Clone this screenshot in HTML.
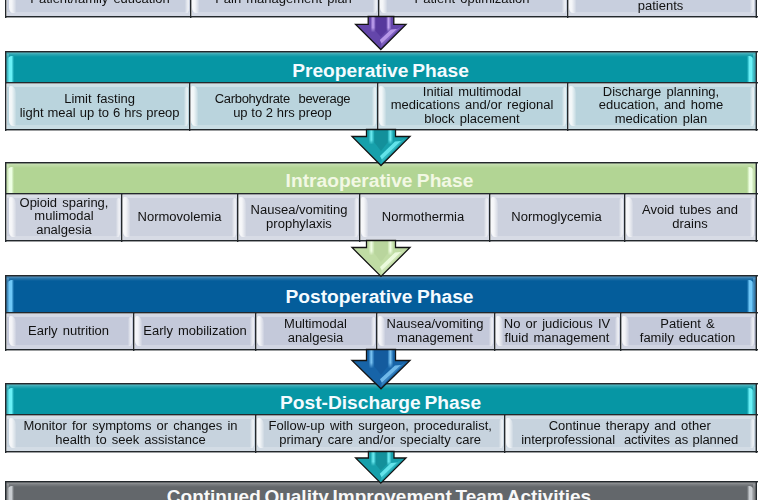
<!DOCTYPE html>
<html><head><meta charset="utf-8"><style>
html,body{margin:0;padding:0;background:#fff;}
body{width:762px;height:500px;overflow:hidden;position:relative;font-family:"Liberation Sans",sans-serif;}
body>div{position:absolute;box-sizing:border-box;}
</style></head><body>
<div style="left:7px;top:-20px;width:183px;height:36px;background:#c8cfde"></div>
<div style="left:7px;top:-20px;width:183px;height:3px;background:rgba(255,255,255,0.28)"></div>
<div style="left:7px;top:12px;width:183px;height:4px;background:rgba(255,255,255,0.22)"></div>
<div style="left:9px;top:-18px;width:7px;height:31px;background:linear-gradient(90deg,rgba(255,255,255,.85),rgba(255,255,255,.8) 40%,rgba(255,255,255,.35) 80%,rgba(255,255,255,.1));border-radius:2px 6px 2px 5px/2px 8px 2px 6px"></div>
<div style="left:185px;top:-17px;width:4px;height:30px;background:linear-gradient(90deg,rgba(255,255,255,.05),rgba(255,255,255,.55) 55%,rgba(255,255,255,.7));border-radius:4px 2px 4px 2px/7px 2px 6px 2px"></div>
<div style="left:-1.5px;top:-19px;width:203.0px;height:36px;display:flex;align-items:center;justify-content:center;text-align:center;font-size:13px;word-spacing:1.5px;line-height:13.2px;color:#111;white-space:pre;transform:scaleY(1.04)"><span>Patient/family education</span></div>
<div style="left:192px;top:-20px;width:186px;height:36px;background:#c8cfde"></div>
<div style="left:192px;top:-20px;width:186px;height:3px;background:rgba(255,255,255,0.28)"></div>
<div style="left:192px;top:12px;width:186px;height:4px;background:rgba(255,255,255,0.22)"></div>
<div style="left:192px;top:-18px;width:7px;height:31px;background:linear-gradient(90deg,rgba(255,255,255,.85),rgba(255,255,255,.8) 40%,rgba(255,255,255,.35) 80%,rgba(255,255,255,.1));border-radius:2px 6px 2px 5px/2px 8px 2px 6px"></div>
<div style="left:373px;top:-17px;width:4px;height:30px;background:linear-gradient(90deg,rgba(255,255,255,.05),rgba(255,255,255,.55) 55%,rgba(255,255,255,.7));border-radius:4px 2px 4px 2px/7px 2px 6px 2px"></div>
<div style="left:180.5px;top:-19px;width:206.0px;height:36px;display:flex;align-items:center;justify-content:center;text-align:center;font-size:13px;word-spacing:1.5px;line-height:13.2px;color:#111;white-space:pre;transform:scaleY(1.04)"><span>Pain management plan</span></div>
<div style="left:380px;top:-20px;width:187px;height:36px;background:#c8cfde"></div>
<div style="left:380px;top:-20px;width:187px;height:3px;background:rgba(255,255,255,0.28)"></div>
<div style="left:380px;top:12px;width:187px;height:4px;background:rgba(255,255,255,0.22)"></div>
<div style="left:380px;top:-18px;width:7px;height:31px;background:linear-gradient(90deg,rgba(255,255,255,.85),rgba(255,255,255,.8) 40%,rgba(255,255,255,.35) 80%,rgba(255,255,255,.1));border-radius:2px 6px 2px 5px/2px 8px 2px 6px"></div>
<div style="left:562px;top:-17px;width:4px;height:30px;background:linear-gradient(90deg,rgba(255,255,255,.05),rgba(255,255,255,.55) 55%,rgba(255,255,255,.7));border-radius:4px 2px 4px 2px/7px 2px 6px 2px"></div>
<div style="left:368.6px;top:-19px;width:207.0px;height:36px;display:flex;align-items:center;justify-content:center;text-align:center;font-size:13px;word-spacing:1.5px;line-height:13.2px;color:#111;white-space:pre;transform:scaleY(1.04)"><span>Patient optimization</span></div>
<div style="left:569px;top:-20px;width:187px;height:36px;background:#c8cfde"></div>
<div style="left:569px;top:-20px;width:187px;height:3px;background:rgba(255,255,255,0.28)"></div>
<div style="left:569px;top:12px;width:187px;height:4px;background:rgba(255,255,255,0.22)"></div>
<div style="left:569px;top:-18px;width:7px;height:31px;background:linear-gradient(90deg,rgba(255,255,255,.85),rgba(255,255,255,.8) 40%,rgba(255,255,255,.35) 80%,rgba(255,255,255,.1));border-radius:2px 6px 2px 5px/2px 8px 2px 6px"></div>
<div style="left:750px;top:-17px;width:4px;height:30px;background:linear-gradient(90deg,rgba(255,255,255,.05),rgba(255,255,255,.55) 55%,rgba(255,255,255,.7));border-radius:4px 2px 4px 2px/7px 2px 6px 2px"></div>
<div style="left:557px;top:-19px;width:207px;height:36px;display:flex;align-items:center;justify-content:center;text-align:center;font-size:13px;word-spacing:1.5px;line-height:13.2px;color:#111;white-space:pre;transform:scaleY(1.04)"><span>Screening high-risk<br>patients</span></div>
<div style="left:5px;top:-22px;width:753px;height:1px;background:#23282c"></div>
<div style="left:5px;top:-21px;width:753px;height:1px;background:#23282c;opacity:.45"></div>
<div style="left:5px;top:16px;width:753px;height:1px;background:#23282c"></div>
<div style="left:5px;top:17px;width:753px;height:1px;background:#23282c;opacity:.45"></div>
<div style="left:5px;top:-22px;width:1px;height:40px;background:#23282c"></div>
<div style="left:6px;top:-22px;width:1px;height:40px;background:#23282c;opacity:.4"></div>
<div style="left:756px;top:-22px;width:1px;height:40px;background:#23282c"></div>
<div style="left:755px;top:-22px;width:1px;height:40px;background:#23282c;opacity:.4"></div>
<div style="left:190px;top:-22px;width:1px;height:40px;background:#23282c"></div>
<div style="left:191px;top:-22px;width:1px;height:40px;background:#23282c;opacity:.4"></div>
<div style="left:378px;top:-22px;width:1px;height:40px;background:#23282c"></div>
<div style="left:379px;top:-22px;width:1px;height:40px;background:#23282c;opacity:.4"></div>
<div style="left:567px;top:-22px;width:1px;height:40px;background:#23282c"></div>
<div style="left:568px;top:-22px;width:1px;height:40px;background:#23282c;opacity:.4"></div>
<div style="left:6px;top:52px;width:750px;height:30px;background:#0696a4"></div>
<div style="left:6px;top:52px;width:750px;height:5px;background:linear-gradient(180deg,rgba(255,255,255,.38),rgba(255,255,255,.15) 50%,rgba(255,255,255,0))"></div>
<div style="left:6px;top:54px;width:3px;height:28px;background:rgba(255,255,255,.2)"></div>
<div style="left:7px;top:56px;width:7px;height:26px;background:linear-gradient(90deg,rgba(255,255,255,0),#6af0f6 35%,#6af0f6 65%,rgba(255,255,255,0));border-radius:5px 1px 0 0/5px 1px 0 0"></div>
<div style="left:747px;top:56px;width:7px;height:26px;background:linear-gradient(90deg,rgba(255,255,255,0),#6af0f6 35%,#6af0f6 70%,rgba(255,255,255,0));border-radius:1px 5px 0 0/1px 5px 0 0"></div>
<div style="left:753px;top:54px;width:3px;height:28px;background:rgba(255,255,255,.2)"></div>
<div style="left:5px;top:60.5px;width:751px;height:19.0px;text-align:center;font-size:19.2px;line-height:19px;font-weight:bold;color:#f4fbff;white-space:pre;word-spacing:-1.5px">Preoperative Phase</div>
<div style="left:7px;top:84px;width:182px;height:45px;background:#bad4dd"></div>
<div style="left:7px;top:84px;width:182px;height:3px;background:rgba(255,255,255,0.28)"></div>
<div style="left:7px;top:125px;width:182px;height:4px;background:rgba(255,255,255,0.22)"></div>
<div style="left:9px;top:86px;width:7px;height:40px;background:linear-gradient(90deg,rgba(255,255,255,.85),rgba(255,255,255,.8) 40%,rgba(255,255,255,.35) 80%,rgba(255,255,255,.1));border-radius:2px 6px 2px 5px/2px 8px 2px 6px"></div>
<div style="left:184px;top:87px;width:4px;height:39px;background:linear-gradient(90deg,rgba(255,255,255,.05),rgba(255,255,255,.55) 55%,rgba(255,255,255,.7));border-radius:4px 2px 4px 2px/7px 2px 6px 2px"></div>
<div style="left:-1.4px;top:83px;width:202.0px;height:45px;display:flex;align-items:center;justify-content:center;text-align:center;font-size:13px;word-spacing:1.5px;line-height:13.2px;color:#111;white-space:pre;transform:scaleY(1.04)"><span>Limit fasting<br><span style="word-spacing:0.4px">light meal up to 6 hrs preop</span></span></div>
<div style="left:191px;top:84px;width:186px;height:45px;background:#bad4dd"></div>
<div style="left:191px;top:84px;width:186px;height:3px;background:rgba(255,255,255,0.28)"></div>
<div style="left:191px;top:125px;width:186px;height:4px;background:rgba(255,255,255,0.22)"></div>
<div style="left:191px;top:86px;width:7px;height:40px;background:linear-gradient(90deg,rgba(255,255,255,.85),rgba(255,255,255,.8) 40%,rgba(255,255,255,.35) 80%,rgba(255,255,255,.1));border-radius:2px 6px 2px 5px/2px 8px 2px 6px"></div>
<div style="left:372px;top:87px;width:4px;height:39px;background:linear-gradient(90deg,rgba(255,255,255,.05),rgba(255,255,255,.55) 55%,rgba(255,255,255,.7));border-radius:4px 2px 4px 2px/7px 2px 6px 2px"></div>
<div style="left:179.5px;top:83px;width:206.0px;height:45px;display:flex;align-items:center;justify-content:center;text-align:center;font-size:13px;word-spacing:1.5px;line-height:13.2px;color:#111;white-space:pre;transform:scaleY(1.04)"><span><span style="letter-spacing:-0.3px;word-spacing:1px">Carbohydrate  beverage</span><br><span style="word-spacing:0.1px">up to 2 hrs preop</span></span></div>
<div style="left:379px;top:84px;width:188px;height:45px;background:#bad4dd"></div>
<div style="left:379px;top:84px;width:188px;height:3px;background:rgba(255,255,255,0.28)"></div>
<div style="left:379px;top:125px;width:188px;height:4px;background:rgba(255,255,255,0.22)"></div>
<div style="left:379px;top:86px;width:7px;height:40px;background:linear-gradient(90deg,rgba(255,255,255,.85),rgba(255,255,255,.8) 40%,rgba(255,255,255,.35) 80%,rgba(255,255,255,.1));border-radius:2px 6px 2px 5px/2px 8px 2px 6px"></div>
<div style="left:562px;top:87px;width:4px;height:39px;background:linear-gradient(90deg,rgba(255,255,255,.05),rgba(255,255,255,.55) 55%,rgba(255,255,255,.7));border-radius:4px 2px 4px 2px/7px 2px 6px 2px"></div>
<div style="left:368px;top:82px;width:208px;height:45px;display:flex;align-items:center;justify-content:center;text-align:center;font-size:13px;word-spacing:1.5px;line-height:13.2px;color:#111;white-space:pre;transform:scaleY(1.04)"><span>Initial multimodal<br>medications and/or regional<br>block placement</span></div>
<div style="left:569px;top:84px;width:187px;height:45px;background:#bad4dd"></div>
<div style="left:569px;top:84px;width:187px;height:3px;background:rgba(255,255,255,0.28)"></div>
<div style="left:569px;top:125px;width:187px;height:4px;background:rgba(255,255,255,0.22)"></div>
<div style="left:569px;top:86px;width:7px;height:40px;background:linear-gradient(90deg,rgba(255,255,255,.85),rgba(255,255,255,.8) 40%,rgba(255,255,255,.35) 80%,rgba(255,255,255,.1));border-radius:2px 6px 2px 5px/2px 8px 2px 6px"></div>
<div style="left:750px;top:87px;width:4px;height:39px;background:linear-gradient(90deg,rgba(255,255,255,.05),rgba(255,255,255,.55) 55%,rgba(255,255,255,.7));border-radius:4px 2px 4px 2px/7px 2px 6px 2px"></div>
<div style="left:557.5px;top:82px;width:207.0px;height:45px;display:flex;align-items:center;justify-content:center;text-align:center;font-size:13px;word-spacing:1.5px;line-height:13.2px;color:#111;white-space:pre;transform:scaleY(1.04)"><span>Discharge planning,<br>education, and home<br>medication plan</span></div>
<div style="left:5px;top:51px;width:753px;height:1px;background:#23282c"></div>
<div style="left:5px;top:52px;width:753px;height:1px;background:#23282c;opacity:.45"></div>
<div style="left:5px;top:82px;width:753px;height:1px;background:#23282c"></div>
<div style="left:5px;top:83px;width:753px;height:1px;background:#23282c;opacity:.45"></div>
<div style="left:5px;top:129px;width:753px;height:1px;background:#23282c"></div>
<div style="left:5px;top:130px;width:753px;height:1px;background:#23282c;opacity:.45"></div>
<div style="left:5px;top:51px;width:1px;height:80px;background:#23282c"></div>
<div style="left:6px;top:51px;width:1px;height:80px;background:#23282c;opacity:.4"></div>
<div style="left:756px;top:51px;width:1px;height:80px;background:#23282c"></div>
<div style="left:755px;top:51px;width:1px;height:80px;background:#23282c;opacity:.4"></div>
<div style="left:189px;top:82px;width:1px;height:49px;background:#23282c"></div>
<div style="left:190px;top:82px;width:1px;height:49px;background:#23282c;opacity:.4"></div>
<div style="left:377px;top:82px;width:1px;height:49px;background:#23282c"></div>
<div style="left:378px;top:82px;width:1px;height:49px;background:#23282c;opacity:.4"></div>
<div style="left:567px;top:82px;width:1px;height:49px;background:#23282c"></div>
<div style="left:568px;top:82px;width:1px;height:49px;background:#23282c;opacity:.4"></div>
<div style="left:6px;top:163px;width:750px;height:30px;background:#b2d594"></div>
<div style="left:6px;top:163px;width:750px;height:5px;background:linear-gradient(180deg,rgba(255,255,255,.38),rgba(255,255,255,.15) 50%,rgba(255,255,255,0))"></div>
<div style="left:6px;top:165px;width:3px;height:28px;background:rgba(255,255,255,.2)"></div>
<div style="left:7px;top:167px;width:7px;height:26px;background:linear-gradient(90deg,rgba(255,255,255,0),#eeffe4 35%,#eeffe4 65%,rgba(255,255,255,0));border-radius:5px 1px 0 0/5px 1px 0 0"></div>
<div style="left:747px;top:167px;width:7px;height:26px;background:linear-gradient(90deg,rgba(255,255,255,0),#eeffe4 35%,#eeffe4 70%,rgba(255,255,255,0));border-radius:1px 5px 0 0/1px 5px 0 0"></div>
<div style="left:753px;top:165px;width:3px;height:28px;background:rgba(255,255,255,.2)"></div>
<div style="left:4px;top:171.1px;width:751px;height:19.0px;text-align:center;font-size:19.2px;line-height:19px;font-weight:bold;color:#f2f8e4;white-space:pre;word-spacing:-1px">Intraoperative Phase</div>
<div style="left:7px;top:195px;width:114px;height:45px;background:#ccd1de"></div>
<div style="left:7px;top:195px;width:114px;height:3px;background:rgba(255,255,255,0.28)"></div>
<div style="left:7px;top:236px;width:114px;height:4px;background:rgba(255,255,255,0.22)"></div>
<div style="left:9px;top:197px;width:7px;height:40px;background:linear-gradient(90deg,rgba(255,255,255,.85),rgba(255,255,255,.8) 40%,rgba(255,255,255,.35) 80%,rgba(255,255,255,.1));border-radius:2px 6px 2px 5px/2px 8px 2px 6px"></div>
<div style="left:116px;top:198px;width:4px;height:39px;background:linear-gradient(90deg,rgba(255,255,255,.05),rgba(255,255,255,.55) 55%,rgba(255,255,255,.7));border-radius:4px 2px 4px 2px/7px 2px 6px 2px"></div>
<div style="left:-3px;top:193px;width:134px;height:45px;display:flex;align-items:center;justify-content:center;text-align:center;font-size:13px;word-spacing:1.5px;line-height:13.2px;color:#111;white-space:pre;transform:scaleY(1.04)"><span>Opioid sparing,<br>mulimodal<br>analgesia</span></div>
<div style="left:123px;top:195px;width:114px;height:45px;background:#ccd1de"></div>
<div style="left:123px;top:195px;width:114px;height:3px;background:rgba(255,255,255,0.28)"></div>
<div style="left:123px;top:236px;width:114px;height:4px;background:rgba(255,255,255,0.22)"></div>
<div style="left:123px;top:197px;width:7px;height:40px;background:linear-gradient(90deg,rgba(255,255,255,.85),rgba(255,255,255,.8) 40%,rgba(255,255,255,.35) 80%,rgba(255,255,255,.1));border-radius:2px 6px 2px 5px/2px 8px 2px 6px"></div>
<div style="left:232px;top:198px;width:4px;height:39px;background:linear-gradient(90deg,rgba(255,255,255,.05),rgba(255,255,255,.55) 55%,rgba(255,255,255,.7));border-radius:4px 2px 4px 2px/7px 2px 6px 2px"></div>
<div style="left:112.5px;top:194px;width:134.0px;height:45px;display:flex;align-items:center;justify-content:center;text-align:center;font-size:13px;word-spacing:1.5px;line-height:13.2px;color:#111;white-space:pre;transform:scaleY(1.04)"><span>Normovolemia</span></div>
<div style="left:239px;top:195px;width:120px;height:45px;background:#ccd1de"></div>
<div style="left:239px;top:195px;width:120px;height:3px;background:rgba(255,255,255,0.28)"></div>
<div style="left:239px;top:236px;width:120px;height:4px;background:rgba(255,255,255,0.22)"></div>
<div style="left:239px;top:197px;width:7px;height:40px;background:linear-gradient(90deg,rgba(255,255,255,.85),rgba(255,255,255,.8) 40%,rgba(255,255,255,.35) 80%,rgba(255,255,255,.1));border-radius:2px 6px 2px 5px/2px 8px 2px 6px"></div>
<div style="left:354px;top:198px;width:4px;height:39px;background:linear-gradient(90deg,rgba(255,255,255,.05),rgba(255,255,255,.55) 55%,rgba(255,255,255,.7));border-radius:4px 2px 4px 2px/7px 2px 6px 2px"></div>
<div style="left:229px;top:194px;width:140px;height:45px;display:flex;align-items:center;justify-content:center;text-align:center;font-size:13px;word-spacing:1.5px;line-height:13.2px;color:#111;white-space:pre;transform:scaleY(1.04)"><span>Nausea/vomiting<br>prophylaxis</span></div>
<div style="left:361px;top:195px;width:128px;height:45px;background:#ccd1de"></div>
<div style="left:361px;top:195px;width:128px;height:3px;background:rgba(255,255,255,0.28)"></div>
<div style="left:361px;top:236px;width:128px;height:4px;background:rgba(255,255,255,0.22)"></div>
<div style="left:361px;top:197px;width:7px;height:40px;background:linear-gradient(90deg,rgba(255,255,255,.85),rgba(255,255,255,.8) 40%,rgba(255,255,255,.35) 80%,rgba(255,255,255,.1));border-radius:2px 6px 2px 5px/2px 8px 2px 6px"></div>
<div style="left:484px;top:198px;width:4px;height:39px;background:linear-gradient(90deg,rgba(255,255,255,.05),rgba(255,255,255,.55) 55%,rgba(255,255,255,.7));border-radius:4px 2px 4px 2px/7px 2px 6px 2px"></div>
<div style="left:349px;top:194px;width:148px;height:45px;display:flex;align-items:center;justify-content:center;text-align:center;font-size:13px;word-spacing:1.5px;line-height:13.2px;color:#111;white-space:pre;transform:scaleY(1.04)"><span>Normothermia</span></div>
<div style="left:491px;top:195px;width:133px;height:45px;background:#ccd1de"></div>
<div style="left:491px;top:195px;width:133px;height:3px;background:rgba(255,255,255,0.28)"></div>
<div style="left:491px;top:236px;width:133px;height:4px;background:rgba(255,255,255,0.22)"></div>
<div style="left:491px;top:197px;width:7px;height:40px;background:linear-gradient(90deg,rgba(255,255,255,.85),rgba(255,255,255,.8) 40%,rgba(255,255,255,.35) 80%,rgba(255,255,255,.1));border-radius:2px 6px 2px 5px/2px 8px 2px 6px"></div>
<div style="left:619px;top:198px;width:4px;height:39px;background:linear-gradient(90deg,rgba(255,255,255,.05),rgba(255,255,255,.55) 55%,rgba(255,255,255,.7));border-radius:4px 2px 4px 2px/7px 2px 6px 2px"></div>
<div style="left:480px;top:194px;width:153px;height:45px;display:flex;align-items:center;justify-content:center;text-align:center;font-size:13px;word-spacing:1.5px;line-height:13.2px;color:#111;white-space:pre;transform:scaleY(1.04)"><span>Normoglycemia</span></div>
<div style="left:626px;top:195px;width:130px;height:45px;background:#ccd1de"></div>
<div style="left:626px;top:195px;width:130px;height:3px;background:rgba(255,255,255,0.28)"></div>
<div style="left:626px;top:236px;width:130px;height:4px;background:rgba(255,255,255,0.22)"></div>
<div style="left:626px;top:197px;width:7px;height:40px;background:linear-gradient(90deg,rgba(255,255,255,.85),rgba(255,255,255,.8) 40%,rgba(255,255,255,.35) 80%,rgba(255,255,255,.1));border-radius:2px 6px 2px 5px/2px 8px 2px 6px"></div>
<div style="left:750px;top:198px;width:4px;height:39px;background:linear-gradient(90deg,rgba(255,255,255,.05),rgba(255,255,255,.55) 55%,rgba(255,255,255,.7));border-radius:4px 2px 4px 2px/7px 2px 6px 2px"></div>
<div style="left:615px;top:194px;width:150px;height:45px;display:flex;align-items:center;justify-content:center;text-align:center;font-size:13px;word-spacing:1.5px;line-height:13.2px;color:#111;white-space:pre;transform:scaleY(1.04)"><span>Avoid tubes and<br>drains</span></div>
<div style="left:5px;top:162px;width:753px;height:1px;background:#23282c"></div>
<div style="left:5px;top:163px;width:753px;height:1px;background:#23282c;opacity:.45"></div>
<div style="left:5px;top:193px;width:753px;height:1px;background:#23282c"></div>
<div style="left:5px;top:194px;width:753px;height:1px;background:#23282c;opacity:.45"></div>
<div style="left:5px;top:240px;width:753px;height:1px;background:#23282c"></div>
<div style="left:5px;top:241px;width:753px;height:1px;background:#23282c;opacity:.45"></div>
<div style="left:5px;top:162px;width:1px;height:80px;background:#23282c"></div>
<div style="left:6px;top:162px;width:1px;height:80px;background:#23282c;opacity:.4"></div>
<div style="left:756px;top:162px;width:1px;height:80px;background:#23282c"></div>
<div style="left:755px;top:162px;width:1px;height:80px;background:#23282c;opacity:.4"></div>
<div style="left:121px;top:193px;width:1px;height:49px;background:#23282c"></div>
<div style="left:122px;top:193px;width:1px;height:49px;background:#23282c;opacity:.4"></div>
<div style="left:237px;top:193px;width:1px;height:49px;background:#23282c"></div>
<div style="left:238px;top:193px;width:1px;height:49px;background:#23282c;opacity:.4"></div>
<div style="left:359px;top:193px;width:1px;height:49px;background:#23282c"></div>
<div style="left:360px;top:193px;width:1px;height:49px;background:#23282c;opacity:.4"></div>
<div style="left:489px;top:193px;width:1px;height:49px;background:#23282c"></div>
<div style="left:490px;top:193px;width:1px;height:49px;background:#23282c;opacity:.4"></div>
<div style="left:624px;top:193px;width:1px;height:49px;background:#23282c"></div>
<div style="left:625px;top:193px;width:1px;height:49px;background:#23282c;opacity:.4"></div>
<div style="left:6px;top:276px;width:750px;height:36px;background:#045d9b"></div>
<div style="left:6px;top:276px;width:750px;height:5px;background:linear-gradient(180deg,rgba(255,255,255,.38),rgba(255,255,255,.15) 50%,rgba(255,255,255,0))"></div>
<div style="left:6px;top:278px;width:3px;height:34px;background:rgba(255,255,255,.2)"></div>
<div style="left:7px;top:280px;width:7px;height:32px;background:linear-gradient(90deg,rgba(255,255,255,0),#70c8f8 35%,#70c8f8 65%,rgba(255,255,255,0));border-radius:5px 1px 0 0/5px 1px 0 0"></div>
<div style="left:747px;top:280px;width:7px;height:32px;background:linear-gradient(90deg,rgba(255,255,255,0),#70c8f8 35%,#70c8f8 70%,rgba(255,255,255,0));border-radius:1px 5px 0 0/1px 5px 0 0"></div>
<div style="left:753px;top:278px;width:3px;height:34px;background:rgba(255,255,255,.2)"></div>
<div style="left:4px;top:287px;width:751px;height:19px;text-align:center;font-size:19.2px;line-height:19px;font-weight:bold;color:#f4fbff;white-space:pre;word-spacing:-0.8px">Postoperative Phase</div>
<div style="left:7px;top:314px;width:126px;height:35px;background:#c4c9da"></div>
<div style="left:7px;top:314px;width:126px;height:3px;background:rgba(255,255,255,0.28)"></div>
<div style="left:7px;top:345px;width:126px;height:4px;background:rgba(255,255,255,0.22)"></div>
<div style="left:9px;top:316px;width:7px;height:30px;background:linear-gradient(90deg,rgba(255,255,255,.85),rgba(255,255,255,.8) 40%,rgba(255,255,255,.35) 80%,rgba(255,255,255,.1));border-radius:2px 6px 2px 5px/2px 8px 2px 6px"></div>
<div style="left:128px;top:317px;width:4px;height:29px;background:linear-gradient(90deg,rgba(255,255,255,.05),rgba(255,255,255,.55) 55%,rgba(255,255,255,.7));border-radius:4px 2px 4px 2px/7px 2px 6px 2px"></div>
<div style="left:-4.5px;top:313px;width:146.0px;height:35px;display:flex;align-items:center;justify-content:center;text-align:center;font-size:13px;word-spacing:1.5px;line-height:13.2px;color:#111;white-space:pre;transform:scaleY(1.04)"><span>Early nutrition</span></div>
<div style="left:135px;top:314px;width:120px;height:35px;background:#c4c9da"></div>
<div style="left:135px;top:314px;width:120px;height:3px;background:rgba(255,255,255,0.28)"></div>
<div style="left:135px;top:345px;width:120px;height:4px;background:rgba(255,255,255,0.22)"></div>
<div style="left:135px;top:316px;width:7px;height:30px;background:linear-gradient(90deg,rgba(255,255,255,.85),rgba(255,255,255,.8) 40%,rgba(255,255,255,.35) 80%,rgba(255,255,255,.1));border-radius:2px 6px 2px 5px/2px 8px 2px 6px"></div>
<div style="left:250px;top:317px;width:4px;height:29px;background:linear-gradient(90deg,rgba(255,255,255,.05),rgba(255,255,255,.55) 55%,rgba(255,255,255,.7));border-radius:4px 2px 4px 2px/7px 2px 6px 2px"></div>
<div style="left:125px;top:313px;width:140px;height:35px;display:flex;align-items:center;justify-content:center;text-align:center;font-size:13px;word-spacing:1.5px;line-height:13.2px;color:#111;white-space:pre;transform:scaleY(1.04)"><span>Early mobilization</span></div>
<div style="left:257px;top:314px;width:119px;height:35px;background:#c4c9da"></div>
<div style="left:257px;top:314px;width:119px;height:3px;background:rgba(255,255,255,0.28)"></div>
<div style="left:257px;top:345px;width:119px;height:4px;background:rgba(255,255,255,0.22)"></div>
<div style="left:257px;top:316px;width:7px;height:30px;background:linear-gradient(90deg,rgba(255,255,255,.85),rgba(255,255,255,.8) 40%,rgba(255,255,255,.35) 80%,rgba(255,255,255,.1));border-radius:2px 6px 2px 5px/2px 8px 2px 6px"></div>
<div style="left:371px;top:317px;width:4px;height:29px;background:linear-gradient(90deg,rgba(255,255,255,.05),rgba(255,255,255,.55) 55%,rgba(255,255,255,.7));border-radius:4px 2px 4px 2px/7px 2px 6px 2px"></div>
<div style="left:246px;top:313px;width:139px;height:35px;display:flex;align-items:center;justify-content:center;text-align:center;font-size:13px;word-spacing:1.5px;line-height:13.2px;color:#111;white-space:pre;transform:scaleY(1.04)"><span>Multimodal<br>analgesia</span></div>
<div style="left:378px;top:314px;width:116px;height:35px;background:#c4c9da"></div>
<div style="left:378px;top:314px;width:116px;height:3px;background:rgba(255,255,255,0.28)"></div>
<div style="left:378px;top:345px;width:116px;height:4px;background:rgba(255,255,255,0.22)"></div>
<div style="left:378px;top:316px;width:7px;height:30px;background:linear-gradient(90deg,rgba(255,255,255,.85),rgba(255,255,255,.8) 40%,rgba(255,255,255,.35) 80%,rgba(255,255,255,.1));border-radius:2px 6px 2px 5px/2px 8px 2px 6px"></div>
<div style="left:489px;top:317px;width:4px;height:29px;background:linear-gradient(90deg,rgba(255,255,255,.05),rgba(255,255,255,.55) 55%,rgba(255,255,255,.7));border-radius:4px 2px 4px 2px/7px 2px 6px 2px"></div>
<div style="left:367px;top:313px;width:136px;height:35px;display:flex;align-items:center;justify-content:center;text-align:center;font-size:13px;word-spacing:1.5px;line-height:13.2px;color:#111;white-space:pre;transform:scaleY(1.04)"><span>Nausea/vomiting<br>management</span></div>
<div style="left:496px;top:314px;width:124px;height:35px;background:#c4c9da"></div>
<div style="left:496px;top:314px;width:124px;height:3px;background:rgba(255,255,255,0.28)"></div>
<div style="left:496px;top:345px;width:124px;height:4px;background:rgba(255,255,255,0.22)"></div>
<div style="left:496px;top:316px;width:7px;height:30px;background:linear-gradient(90deg,rgba(255,255,255,.85),rgba(255,255,255,.8) 40%,rgba(255,255,255,.35) 80%,rgba(255,255,255,.1));border-radius:2px 6px 2px 5px/2px 8px 2px 6px"></div>
<div style="left:615px;top:317px;width:4px;height:29px;background:linear-gradient(90deg,rgba(255,255,255,.05),rgba(255,255,255,.55) 55%,rgba(255,255,255,.7));border-radius:4px 2px 4px 2px/7px 2px 6px 2px"></div>
<div style="left:485px;top:313px;width:144px;height:35px;display:flex;align-items:center;justify-content:center;text-align:center;font-size:13px;word-spacing:1.5px;line-height:13.2px;color:#111;white-space:pre;transform:scaleY(1.04)"><span>No or judicious IV<br>fluid management</span></div>
<div style="left:622px;top:314px;width:134px;height:35px;background:#c4c9da"></div>
<div style="left:622px;top:314px;width:134px;height:3px;background:rgba(255,255,255,0.28)"></div>
<div style="left:622px;top:345px;width:134px;height:4px;background:rgba(255,255,255,0.22)"></div>
<div style="left:622px;top:316px;width:7px;height:30px;background:linear-gradient(90deg,rgba(255,255,255,.85),rgba(255,255,255,.8) 40%,rgba(255,255,255,.35) 80%,rgba(255,255,255,.1));border-radius:2px 6px 2px 5px/2px 8px 2px 6px"></div>
<div style="left:750px;top:317px;width:4px;height:29px;background:linear-gradient(90deg,rgba(255,255,255,.05),rgba(255,255,255,.55) 55%,rgba(255,255,255,.7));border-radius:4px 2px 4px 2px/7px 2px 6px 2px"></div>
<div style="left:610.5px;top:313px;width:154.0px;height:35px;display:flex;align-items:center;justify-content:center;text-align:center;font-size:13px;word-spacing:1.5px;line-height:13.2px;color:#111;white-space:pre;transform:scaleY(1.04)"><span>Patient &<br>family education</span></div>
<div style="left:5px;top:275px;width:753px;height:1px;background:#23282c"></div>
<div style="left:5px;top:276px;width:753px;height:1px;background:#23282c;opacity:.45"></div>
<div style="left:5px;top:312px;width:753px;height:1px;background:#23282c"></div>
<div style="left:5px;top:313px;width:753px;height:1px;background:#23282c;opacity:.45"></div>
<div style="left:5px;top:349px;width:753px;height:1px;background:#23282c"></div>
<div style="left:5px;top:350px;width:753px;height:1px;background:#23282c;opacity:.45"></div>
<div style="left:5px;top:275px;width:1px;height:76px;background:#23282c"></div>
<div style="left:6px;top:275px;width:1px;height:76px;background:#23282c;opacity:.4"></div>
<div style="left:756px;top:275px;width:1px;height:76px;background:#23282c"></div>
<div style="left:755px;top:275px;width:1px;height:76px;background:#23282c;opacity:.4"></div>
<div style="left:133px;top:312px;width:1px;height:39px;background:#23282c"></div>
<div style="left:134px;top:312px;width:1px;height:39px;background:#23282c;opacity:.4"></div>
<div style="left:255px;top:312px;width:1px;height:39px;background:#23282c"></div>
<div style="left:256px;top:312px;width:1px;height:39px;background:#23282c;opacity:.4"></div>
<div style="left:376px;top:312px;width:1px;height:39px;background:#23282c"></div>
<div style="left:377px;top:312px;width:1px;height:39px;background:#23282c;opacity:.4"></div>
<div style="left:494px;top:312px;width:1px;height:39px;background:#23282c"></div>
<div style="left:495px;top:312px;width:1px;height:39px;background:#23282c;opacity:.4"></div>
<div style="left:620px;top:312px;width:1px;height:39px;background:#23282c"></div>
<div style="left:621px;top:312px;width:1px;height:39px;background:#23282c;opacity:.4"></div>
<div style="left:6px;top:384px;width:750px;height:30px;background:#0696a4"></div>
<div style="left:6px;top:384px;width:750px;height:5px;background:linear-gradient(180deg,rgba(255,255,255,.38),rgba(255,255,255,.15) 50%,rgba(255,255,255,0))"></div>
<div style="left:6px;top:386px;width:3px;height:28px;background:rgba(255,255,255,.2)"></div>
<div style="left:7px;top:388px;width:7px;height:26px;background:linear-gradient(90deg,rgba(255,255,255,0),#6af0f6 35%,#6af0f6 65%,rgba(255,255,255,0));border-radius:5px 1px 0 0/5px 1px 0 0"></div>
<div style="left:747px;top:388px;width:7px;height:26px;background:linear-gradient(90deg,rgba(255,255,255,0),#6af0f6 35%,#6af0f6 70%,rgba(255,255,255,0));border-radius:1px 5px 0 0/1px 5px 0 0"></div>
<div style="left:753px;top:386px;width:3px;height:28px;background:rgba(255,255,255,.2)"></div>
<div style="left:5px;top:392.6px;width:751px;height:19.0px;text-align:center;font-size:19.2px;line-height:19px;font-weight:bold;color:#f4fbff;white-space:pre;word-spacing:-1.5px">Post-Discharge Phase</div>
<div style="left:7px;top:416px;width:248px;height:35px;background:#c7d3de"></div>
<div style="left:7px;top:416px;width:248px;height:3px;background:rgba(255,255,255,0.28)"></div>
<div style="left:7px;top:447px;width:248px;height:4px;background:rgba(255,255,255,0.22)"></div>
<div style="left:9px;top:418px;width:7px;height:30px;background:linear-gradient(90deg,rgba(255,255,255,.85),rgba(255,255,255,.8) 40%,rgba(255,255,255,.35) 80%,rgba(255,255,255,.1));border-radius:2px 6px 2px 5px/2px 8px 2px 6px"></div>
<div style="left:250px;top:419px;width:4px;height:29px;background:linear-gradient(90deg,rgba(255,255,255,.05),rgba(255,255,255,.55) 55%,rgba(255,255,255,.7));border-radius:4px 2px 4px 2px/7px 2px 6px 2px"></div>
<div style="left:-3.5px;top:415px;width:268.0px;height:35px;display:flex;align-items:center;justify-content:center;text-align:center;font-size:13px;word-spacing:1.5px;line-height:13.2px;color:#111;white-space:pre;transform:scaleY(1.04)"><span>Monitor for symptoms or changes in<br>health to seek assistance</span></div>
<div style="left:257px;top:416px;width:247px;height:35px;background:#c7d3de"></div>
<div style="left:257px;top:416px;width:247px;height:3px;background:rgba(255,255,255,0.28)"></div>
<div style="left:257px;top:447px;width:247px;height:4px;background:rgba(255,255,255,0.22)"></div>
<div style="left:257px;top:418px;width:7px;height:30px;background:linear-gradient(90deg,rgba(255,255,255,.85),rgba(255,255,255,.8) 40%,rgba(255,255,255,.35) 80%,rgba(255,255,255,.1));border-radius:2px 6px 2px 5px/2px 8px 2px 6px"></div>
<div style="left:499px;top:419px;width:4px;height:29px;background:linear-gradient(90deg,rgba(255,255,255,.05),rgba(255,255,255,.55) 55%,rgba(255,255,255,.7));border-radius:4px 2px 4px 2px/7px 2px 6px 2px"></div>
<div style="left:246.7px;top:415px;width:267.00000000000006px;height:35px;display:flex;align-items:center;justify-content:center;text-align:center;font-size:13px;word-spacing:1.5px;line-height:13.2px;color:#111;white-space:pre;transform:scaleY(1.04)"><span>Follow-up with surgeon, proceduralist,<br>primary care and/or specialty care</span></div>
<div style="left:506px;top:416px;width:250px;height:35px;background:#c7d3de"></div>
<div style="left:506px;top:416px;width:250px;height:3px;background:rgba(255,255,255,0.28)"></div>
<div style="left:506px;top:447px;width:250px;height:4px;background:rgba(255,255,255,0.22)"></div>
<div style="left:506px;top:418px;width:7px;height:30px;background:linear-gradient(90deg,rgba(255,255,255,.85),rgba(255,255,255,.8) 40%,rgba(255,255,255,.35) 80%,rgba(255,255,255,.1));border-radius:2px 6px 2px 5px/2px 8px 2px 6px"></div>
<div style="left:750px;top:419px;width:4px;height:29px;background:linear-gradient(90deg,rgba(255,255,255,.05),rgba(255,255,255,.55) 55%,rgba(255,255,255,.7));border-radius:4px 2px 4px 2px/7px 2px 6px 2px"></div>
<div style="left:494.7px;top:415px;width:270.00000000000006px;height:35px;display:flex;align-items:center;justify-content:center;text-align:center;font-size:13px;word-spacing:1.5px;line-height:13.2px;color:#111;white-space:pre;transform:scaleY(1.04)"><span>Continue therapy and other<br><span style="letter-spacing:-0.1px;word-spacing:1px">interprofessional  activites as planned</span></span></div>
<div style="left:5px;top:383px;width:753px;height:1px;background:#23282c"></div>
<div style="left:5px;top:384px;width:753px;height:1px;background:#23282c;opacity:.45"></div>
<div style="left:5px;top:414px;width:753px;height:1px;background:#23282c"></div>
<div style="left:5px;top:415px;width:753px;height:1px;background:#23282c;opacity:.45"></div>
<div style="left:5px;top:451px;width:753px;height:1px;background:#23282c"></div>
<div style="left:5px;top:452px;width:753px;height:1px;background:#23282c;opacity:.45"></div>
<div style="left:5px;top:383px;width:1px;height:70px;background:#23282c"></div>
<div style="left:6px;top:383px;width:1px;height:70px;background:#23282c;opacity:.4"></div>
<div style="left:756px;top:383px;width:1px;height:70px;background:#23282c"></div>
<div style="left:755px;top:383px;width:1px;height:70px;background:#23282c;opacity:.4"></div>
<div style="left:255px;top:414px;width:1px;height:39px;background:#23282c"></div>
<div style="left:256px;top:414px;width:1px;height:39px;background:#23282c;opacity:.4"></div>
<div style="left:504px;top:414px;width:1px;height:39px;background:#23282c"></div>
<div style="left:505px;top:414px;width:1px;height:39px;background:#23282c;opacity:.4"></div>
<div style="left:6px;top:482px;width:750px;height:48px;background:#63676b"></div>
<div style="left:6px;top:482px;width:750px;height:5px;background:linear-gradient(180deg,rgba(255,255,255,.38),rgba(255,255,255,.15) 50%,rgba(255,255,255,0))"></div>
<div style="left:6px;top:484px;width:3px;height:46px;background:rgba(255,255,255,.2)"></div>
<div style="left:7px;top:486px;width:7px;height:44px;background:linear-gradient(90deg,rgba(255,255,255,0),#c8ccd0 35%,#c8ccd0 65%,rgba(255,255,255,0));border-radius:5px 1px 0 0/5px 1px 0 0"></div>
<div style="left:747px;top:486px;width:7px;height:44px;background:linear-gradient(90deg,rgba(255,255,255,0),#c8ccd0 35%,#c8ccd0 70%,rgba(255,255,255,0));border-radius:1px 5px 0 0/1px 5px 0 0"></div>
<div style="left:753px;top:484px;width:3px;height:46px;background:rgba(255,255,255,.2)"></div>
<div style="left:3.5px;top:486.7px;width:751.0px;height:19.0px;text-align:center;font-size:19px;line-height:19px;font-weight:bold;color:#f8f8f8;white-space:pre;word-spacing:-1.6px">Continued Quality Improvement Team Activities</div>
<div style="left:5px;top:481px;width:753px;height:1px;background:#23282c"></div>
<div style="left:5px;top:482px;width:753px;height:1px;background:#23282c;opacity:.45"></div>
<div style="left:5px;top:481px;width:1px;height:19px;background:#23282c"></div>
<div style="left:6px;top:481px;width:1px;height:19px;background:#23282c;opacity:.4"></div>
<div style="left:756px;top:481px;width:1px;height:19px;background:#23282c"></div>
<div style="left:755px;top:481px;width:1px;height:19px;background:#23282c;opacity:.4"></div>
<svg width="762" height="500" style="position:absolute;left:0;top:0"><defs><linearGradient id="a16s" x1="0" x2="1" y1="0" y2="0"><stop offset="0" stop-color="#c4a6f2" stop-opacity="0.15"/><stop offset="0.45" stop-color="#c4a6f2" stop-opacity="1"/><stop offset="1" stop-color="#c4a6f2" stop-opacity="0.1"/></linearGradient><linearGradient id="a16v" x1="0" x2="0" y1="0" y2="1"><stop offset="0" stop-color="#fff" stop-opacity="1"/><stop offset="0.7" stop-color="#fff" stop-opacity="1"/><stop offset="1" stop-color="#fff" stop-opacity="0"/></linearGradient><mask id="a16m"><rect x="0" y="16.5" width="762" height="15.899999999999999" fill="url(#a16v)"/></mask></defs><polygon points="368.2,16.5 393.8,16.5 393.8,24.4 406,24.4 380.8,49.5 355.6,24.4 368.2,24.4" fill="#6446aa"/><polygon points="375.112,16.5 386.888,16.5 386.888,30.4 380.8,36.95 375.112,30.4" fill="#3a1a80" opacity=".3"/><g mask="url(#a16m)"><rect x="370.7" y="17.0" width="5" height="15.899999999999999" fill="url(#a16s)"/><rect x="386.3" y="17.0" width="5" height="15.899999999999999" fill="url(#a16s)"/></g><polygon points="397,28.9 391,29.4 379.8,40.0 381.6,43.5" fill="#c4a6f2" opacity=".85"/><polygon points="401,26.4 397,28.9 381.6,43.5 381.1,47.0" fill="#c4a6f2" opacity=".3"/><polygon points="368.2,16.5 393.8,16.5 393.8,24.4 406,24.4 380.8,49.5 355.6,24.4 368.2,24.4" fill="none" stroke="#141414" stroke-width="1.3" stroke-linejoin="miter"/></svg>
<svg width="762" height="500" style="position:absolute;left:0;top:0"><defs><linearGradient id="a129s" x1="0" x2="1" y1="0" y2="0"><stop offset="0" stop-color="#70eef4" stop-opacity="0.15"/><stop offset="0.45" stop-color="#70eef4" stop-opacity="1"/><stop offset="1" stop-color="#70eef4" stop-opacity="0.1"/></linearGradient><linearGradient id="a129v" x1="0" x2="0" y1="0" y2="1"><stop offset="0" stop-color="#fff" stop-opacity="1"/><stop offset="0.7" stop-color="#fff" stop-opacity="1"/><stop offset="1" stop-color="#fff" stop-opacity="0"/></linearGradient><mask id="a129m"><rect x="0" y="129.5" width="762" height="15.0" fill="url(#a129v)"/></mask></defs><polygon points="366.5,129.5 395.5,129.5 395.5,136.5 410,136.5 381.0,165.5 352,136.5 366.5,136.5" fill="#17a0ab"/><polygon points="374.33,129.5 387.67,129.5 387.67,142.5 381.0,151.0 374.33,142.5" fill="#0a6e78" opacity=".3"/><g mask="url(#a129m)"><rect x="369.0" y="130.0" width="5" height="15.0" fill="url(#a129s)"/><rect x="388.0" y="130.0" width="5" height="15.0" fill="url(#a129s)"/></g><polygon points="401,141.0 395,141.5 380.0,156.0 381.8,159.5" fill="#70eef4" opacity=".85"/><polygon points="405,138.5 401,141.0 381.8,159.5 381.3,163.0" fill="#70eef4" opacity=".3"/><polygon points="366.5,129.5 395.5,129.5 395.5,136.5 410,136.5 381.0,165.5 352,136.5 366.5,136.5" fill="none" stroke="#141414" stroke-width="1.3" stroke-linejoin="miter"/></svg>
<svg width="762" height="500" style="position:absolute;left:0;top:0"><defs><linearGradient id="a240s" x1="0" x2="1" y1="0" y2="0"><stop offset="0" stop-color="#f2ffe6" stop-opacity="0.15"/><stop offset="0.45" stop-color="#f2ffe6" stop-opacity="1"/><stop offset="1" stop-color="#f2ffe6" stop-opacity="0.1"/></linearGradient><linearGradient id="a240v" x1="0" x2="0" y1="0" y2="1"><stop offset="0" stop-color="#fff" stop-opacity="1"/><stop offset="0.7" stop-color="#fff" stop-opacity="1"/><stop offset="1" stop-color="#fff" stop-opacity="0"/></linearGradient><mask id="a240m"><rect x="0" y="240.5" width="762" height="15.0" fill="url(#a240v)"/></mask></defs><polygon points="366.5,240.5 395.5,240.5 395.5,247.5 410,247.5 381.0,276.4 352,247.5 366.5,247.5" fill="#c0dca4"/><polygon points="374.33,240.5 387.67,240.5 387.67,253.5 381.0,261.95 374.33,253.5" fill="#a8c890" opacity=".3"/><g mask="url(#a240m)"><rect x="369.0" y="241.0" width="5" height="15.0" fill="url(#a240s)"/><rect x="388.0" y="241.0" width="5" height="15.0" fill="url(#a240s)"/></g><polygon points="401,252.0 395,252.5 380.0,266.9 381.8,270.4" fill="#f2ffe6" opacity=".85"/><polygon points="405,249.5 401,252.0 381.8,270.4 381.3,273.9" fill="#f2ffe6" opacity=".3"/><polygon points="366.5,240.5 395.5,240.5 395.5,247.5 410,247.5 381.0,276.4 352,247.5 366.5,247.5" fill="none" stroke="#141414" stroke-width="1.3" stroke-linejoin="miter"/></svg>
<svg width="762" height="500" style="position:absolute;left:0;top:0"><defs><linearGradient id="a349s" x1="0" x2="1" y1="0" y2="0"><stop offset="0" stop-color="#80c8f6" stop-opacity="0.15"/><stop offset="0.45" stop-color="#80c8f6" stop-opacity="1"/><stop offset="1" stop-color="#80c8f6" stop-opacity="0.1"/></linearGradient><linearGradient id="a349v" x1="0" x2="0" y1="0" y2="1"><stop offset="0" stop-color="#fff" stop-opacity="1"/><stop offset="0.7" stop-color="#fff" stop-opacity="1"/><stop offset="1" stop-color="#fff" stop-opacity="0"/></linearGradient><mask id="a349m"><rect x="0" y="349.5" width="762" height="19.0" fill="url(#a349v)"/></mask></defs><polygon points="366.5,349.5 395.5,349.5 395.5,360.5 410,360.5 381.0,388.8 352,360.5 366.5,360.5" fill="#1764a8"/><polygon points="374.33,349.5 387.67,349.5 387.67,366.5 381.0,374.65 374.33,366.5" fill="#0c4a88" opacity=".3"/><g mask="url(#a349m)"><rect x="369.0" y="350.0" width="5" height="19.0" fill="url(#a349s)"/><rect x="388.0" y="350.0" width="5" height="19.0" fill="url(#a349s)"/></g><polygon points="401,365.0 395,365.5 380.0,379.3 381.8,382.8" fill="#80c8f6" opacity=".85"/><polygon points="405,362.5 401,365.0 381.8,382.8 381.3,386.3" fill="#80c8f6" opacity=".3"/><polygon points="366.5,349.5 395.5,349.5 395.5,360.5 410,360.5 381.0,388.8 352,360.5 366.5,360.5" fill="none" stroke="#141414" stroke-width="1.3" stroke-linejoin="miter"/></svg>
<svg width="762" height="500" style="position:absolute;left:0;top:0"><defs><linearGradient id="a451s" x1="0" x2="1" y1="0" y2="0"><stop offset="0" stop-color="#70eef4" stop-opacity="0.15"/><stop offset="0.45" stop-color="#70eef4" stop-opacity="1"/><stop offset="1" stop-color="#70eef4" stop-opacity="0.1"/></linearGradient><linearGradient id="a451v" x1="0" x2="0" y1="0" y2="1"><stop offset="0" stop-color="#fff" stop-opacity="1"/><stop offset="0.7" stop-color="#fff" stop-opacity="1"/><stop offset="1" stop-color="#fff" stop-opacity="0"/></linearGradient><mask id="a451m"><rect x="0" y="451.5" width="762" height="14.5" fill="url(#a451v)"/></mask></defs><polygon points="368.4,451.5 394,451.5 394,458 406,458 380.8,483.2 355.6,458 368.4,458" fill="#17a0ab"/><polygon points="375.312,451.5 387.08799999999997,451.5 387.08799999999997,464 380.8,470.6 375.312,464" fill="#0a6e78" opacity=".3"/><g mask="url(#a451m)"><rect x="370.9" y="452.0" width="5" height="14.5" fill="url(#a451s)"/><rect x="386.5" y="452.0" width="5" height="14.5" fill="url(#a451s)"/></g><polygon points="397,462.5 391,463 379.8,473.7 381.6,477.2" fill="#70eef4" opacity=".85"/><polygon points="401,460 397,462.5 381.6,477.2 381.1,480.7" fill="#70eef4" opacity=".3"/><polygon points="368.4,451.5 394,451.5 394,458 406,458 380.8,483.2 355.6,458 368.4,458" fill="none" stroke="#141414" stroke-width="1.3" stroke-linejoin="miter"/></svg>
</body></html>
